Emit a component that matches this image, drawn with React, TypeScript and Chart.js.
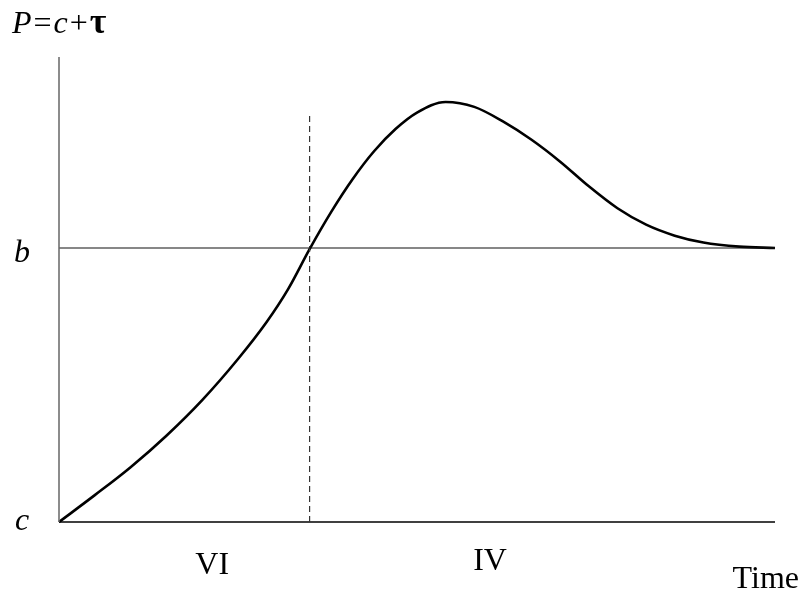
import React, { useEffect, useRef } from "react";
import { Chart, registerables } from "chart.js";

Chart.register(...registerables);

// Curve samples (time, price)
const curveX = [0, 5, 10, 15, 20, 25, 29, 32, 35, 38, 41, 44, 47, 50, 54, 58, 62, 66, 70, 74, 78, 82, 86, 90, 95, 100];
const curveY = [0, 0.098, 0.2, 0.315, 0.445, 0.595, 0.73, 0.85, 0.996, 1.131, 1.251, 1.353, 1.434, 1.494, 1.533, 1.515, 1.462, 1.395, 1.315, 1.225, 1.145, 1.085, 1.045, 1.02, 1.005, 1.0];

const levelB = 1;
const levelC = 0;
const dividerX = 35;
const dividerTop = 1.482;
const xMax = 100;
const yMax = 1.697;

const regionLabels = ["VI", "IV"];
const regionCenters = [21.4, 60.2];

const FONT = "'Liberation Serif', 'Times New Roman', serif";

const labelPlugin = {
  id: "labels",
  afterDraw(chart: any) {
    const ctx = chart.ctx as CanvasRenderingContext2D;
    const xs = chart.scales.x;
    const ys = chart.scales.y;
    const left = xs.getPixelForValue(0);
    ctx.save();
    ctx.fillStyle = "#000";
    ctx.textBaseline = "alphabetic";

    // Title P=c+τ
    const parts: [string, string, number][] = [
      ["P", "italic 32px", 2],
      ["=", "32px", 2],
      ["c", "italic 32px", 2],
      ["+", "32px", 2],
      ["τ", "bold 36px", 0],
    ];
    let x = left - 47;
    const titleY = ys.getPixelForValue(yMax) - 24;
    for (const [t, f, gap] of parts) {
      ctx.font = `${f} ${FONT}`;
      ctx.textAlign = "left";
      ctx.fillText(t, x, titleY);
      x += ctx.measureText(t).width + gap;
    }

    ctx.font = `italic 32px ${FONT}`;
    ctx.textAlign = "left";
    ctx.fillText("b", left - 45, ys.getPixelForValue(levelB) + 14);
    ctx.fillText("c", left - 44, ys.getPixelForValue(levelC) + 8);

    ctx.font = `32px ${FONT}`;
    ctx.textAlign = "center";
    const base = ys.getPixelForValue(0);
    ctx.fillText(regionLabels[0], xs.getPixelForValue(regionCenters[0]), base + 52);
    ctx.fillText(regionLabels[1], xs.getPixelForValue(regionCenters[1]), base + 48);
    ctx.textAlign = "right";
    ctx.fillText("Time", xs.getPixelForValue(xMax) + 24, base + 66);
    ctx.restore();
  },
};

export default function App() {
  const ref = useRef<HTMLCanvasElement>(null);
  useEffect(() => {
    if (!ref.current) return;
    const curve = curveX.map((v, i) => ({ x: v, y: curveY[i] }));
    const chart = new Chart(ref.current, {
      type: "scatter",
      data: {
        datasets: [
          {
            data: [{ x: 0, y: levelC }, { x: 0, y: yMax }],
            showLine: true, borderColor: "#666", borderWidth: 1.5, pointRadius: 0, clip: false,
          } as any,
          {
            data: [{ x: 0, y: levelB }, { x: xMax, y: levelB }],
            showLine: true, borderColor: "#111", borderWidth: 1.2, pointRadius: 0, clip: false,
          },
          {
            data: [{ x: dividerX, y: levelC }, { x: dividerX, y: dividerTop }],
            showLine: true, borderColor: "#333", borderWidth: 1.2, borderDash: [6, 4], pointRadius: 0, clip: false,
          },
          {
            data: [{ x: 0, y: levelC }, { x: xMax, y: levelC }],
            showLine: true, borderColor: "#000", borderWidth: 1.6, pointRadius: 0, clip: false,
          },
          {
            data: curve,
            showLine: true, borderColor: "#000", borderWidth: 2.6, pointRadius: 0,
            cubicInterpolationMode: "monotone", clip: false,
          },
        ],
      },
      options: {
        responsive: false,
        animation: false,
        layout: { padding: { left: 59, right: 31, top: 57, bottom: 70 } },
        plugins: { legend: { display: false }, tooltip: { enabled: false } },
        scales: {
          x: { type: "linear", min: 0, max: xMax, display: false },
          y: { type: "linear", min: 0, max: yMax, display: false },
        },
      },
      plugins: [labelPlugin],
    });
    return () => chart.destroy();
  }, []);
  return (
    <div style={{ position: "fixed", left: 0, top: 0, width: 806, height: 592, background: "#fff" }}>
      <canvas ref={ref} width={806} height={592} />
    </div>
  );
}
